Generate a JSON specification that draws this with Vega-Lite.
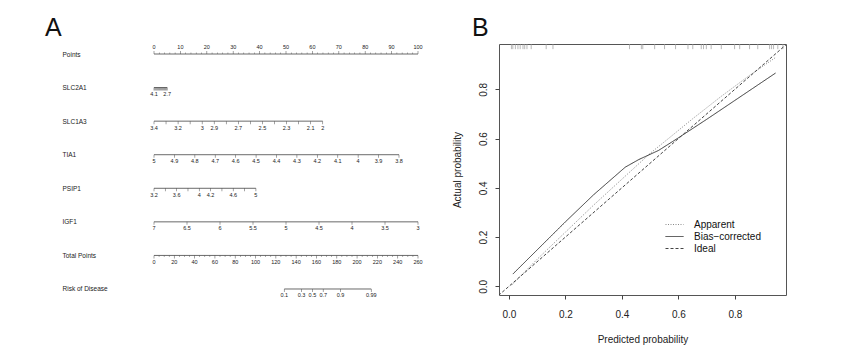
{
 "$schema": "https://vega.github.io/schema/vega-lite/v6.json",
 "background": "white",
 "padding": {"left": 45, "top": 15, "right": 5, "bottom": 5},
 "bounds": "flush",
 "spacing": 81,
 "config": {"font": "Liberation Sans", "view": {"stroke": null}},
 "datasets": {
  "nomo": [
   {"row":"Points","pts":0,"lab":"0","kind":"major"},{"row":"Points","pts":2,"lab":"","kind":"minor"},{"row":"Points","pts":4,"lab":"","kind":"minor"},{"row":"Points","pts":6,"lab":"","kind":"minor"},{"row":"Points","pts":8,"lab":"","kind":"minor"},
   {"row":"Points","pts":10,"lab":"10","kind":"major"},{"row":"Points","pts":12,"lab":"","kind":"minor"},{"row":"Points","pts":14,"lab":"","kind":"minor"},{"row":"Points","pts":16,"lab":"","kind":"minor"},{"row":"Points","pts":18,"lab":"","kind":"minor"},
   {"row":"Points","pts":20,"lab":"20","kind":"major"},{"row":"Points","pts":22,"lab":"","kind":"minor"},{"row":"Points","pts":24,"lab":"","kind":"minor"},{"row":"Points","pts":26,"lab":"","kind":"minor"},{"row":"Points","pts":28,"lab":"","kind":"minor"},
   {"row":"Points","pts":30,"lab":"30","kind":"major"},{"row":"Points","pts":32,"lab":"","kind":"minor"},{"row":"Points","pts":34,"lab":"","kind":"minor"},{"row":"Points","pts":36,"lab":"","kind":"minor"},{"row":"Points","pts":38,"lab":"","kind":"minor"},
   {"row":"Points","pts":40,"lab":"40","kind":"major"},{"row":"Points","pts":42,"lab":"","kind":"minor"},{"row":"Points","pts":44,"lab":"","kind":"minor"},{"row":"Points","pts":46,"lab":"","kind":"minor"},{"row":"Points","pts":48,"lab":"","kind":"minor"},
   {"row":"Points","pts":50,"lab":"50","kind":"major"},{"row":"Points","pts":52,"lab":"","kind":"minor"},{"row":"Points","pts":54,"lab":"","kind":"minor"},{"row":"Points","pts":56,"lab":"","kind":"minor"},{"row":"Points","pts":58,"lab":"","kind":"minor"},
   {"row":"Points","pts":60,"lab":"60","kind":"major"},{"row":"Points","pts":62,"lab":"","kind":"minor"},{"row":"Points","pts":64,"lab":"","kind":"minor"},{"row":"Points","pts":66,"lab":"","kind":"minor"},{"row":"Points","pts":68,"lab":"","kind":"minor"},
   {"row":"Points","pts":70,"lab":"70","kind":"major"},{"row":"Points","pts":72,"lab":"","kind":"minor"},{"row":"Points","pts":74,"lab":"","kind":"minor"},{"row":"Points","pts":76,"lab":"","kind":"minor"},{"row":"Points","pts":78,"lab":"","kind":"minor"},
   {"row":"Points","pts":80,"lab":"80","kind":"major"},{"row":"Points","pts":82,"lab":"","kind":"minor"},{"row":"Points","pts":84,"lab":"","kind":"minor"},{"row":"Points","pts":86,"lab":"","kind":"minor"},{"row":"Points","pts":88,"lab":"","kind":"minor"},
   {"row":"Points","pts":90,"lab":"90","kind":"major"},{"row":"Points","pts":92,"lab":"","kind":"minor"},{"row":"Points","pts":94,"lab":"","kind":"minor"},{"row":"Points","pts":96,"lab":"","kind":"minor"},{"row":"Points","pts":98,"lab":"","kind":"minor"},
   {"row":"Points","pts":100,"lab":"100","kind":"major"},

   {"row":"SLC2A1","pts":0,"lab":"4.1","kind":"major"},{"row":"SLC2A1","pts":0.357,"lab":"","kind":"major"},{"row":"SLC2A1","pts":0.714,"lab":"","kind":"major"},{"row":"SLC2A1","pts":1.071,"lab":"","kind":"major"},{"row":"SLC2A1","pts":1.429,"lab":"","kind":"major"},{"row":"SLC2A1","pts":1.786,"lab":"","kind":"major"},{"row":"SLC2A1","pts":2.143,"lab":"","kind":"major"},{"row":"SLC2A1","pts":2.5,"lab":"","kind":"major"},{"row":"SLC2A1","pts":2.857,"lab":"","kind":"major"},{"row":"SLC2A1","pts":3.214,"lab":"","kind":"major"},{"row":"SLC2A1","pts":3.571,"lab":"","kind":"major"},{"row":"SLC2A1","pts":3.929,"lab":"","kind":"major"},{"row":"SLC2A1","pts":4.286,"lab":"","kind":"major"},{"row":"SLC2A1","pts":4.643,"lab":"","kind":"major"},{"row":"SLC2A1","pts":5.0,"lab":"2.7","kind":"major"},

   {"row":"SLC1A3","pts":0,"lab":"3.4","kind":"major"},{"row":"SLC1A3","pts":4.56,"lab":"","kind":"major"},{"row":"SLC1A3","pts":9.13,"lab":"3.2","kind":"major"},{"row":"SLC1A3","pts":13.69,"lab":"","kind":"major"},{"row":"SLC1A3","pts":18.26,"lab":"3","kind":"major"},{"row":"SLC1A3","pts":22.82,"lab":"2.9","kind":"major"},{"row":"SLC1A3","pts":27.39,"lab":"","kind":"major"},{"row":"SLC1A3","pts":31.95,"lab":"2.7","kind":"major"},{"row":"SLC1A3","pts":36.51,"lab":"","kind":"major"},{"row":"SLC1A3","pts":41.08,"lab":"2.5","kind":"major"},{"row":"SLC1A3","pts":45.64,"lab":"","kind":"major"},{"row":"SLC1A3","pts":50.21,"lab":"2.3","kind":"major"},{"row":"SLC1A3","pts":54.77,"lab":"","kind":"major"},{"row":"SLC1A3","pts":59.34,"lab":"2.1","kind":"major"},{"row":"SLC1A3","pts":63.9,"lab":"2","kind":"major"},

   {"row":"TIA1","pts":0,"lab":"5","kind":"major"},{"row":"TIA1","pts":7.73,"lab":"4.9","kind":"major"},{"row":"TIA1","pts":15.47,"lab":"4.8","kind":"major"},{"row":"TIA1","pts":23.2,"lab":"4.7","kind":"major"},{"row":"TIA1","pts":30.93,"lab":"4.6","kind":"major"},{"row":"TIA1","pts":38.67,"lab":"4.5","kind":"major"},{"row":"TIA1","pts":46.4,"lab":"4.4","kind":"major"},{"row":"TIA1","pts":54.13,"lab":"4.3","kind":"major"},{"row":"TIA1","pts":61.87,"lab":"4.2","kind":"major"},{"row":"TIA1","pts":69.6,"lab":"4.1","kind":"major"},{"row":"TIA1","pts":77.33,"lab":"4","kind":"major"},{"row":"TIA1","pts":85.07,"lab":"3.9","kind":"major"},{"row":"TIA1","pts":92.8,"lab":"3.8","kind":"major"},

   {"row":"PSIP1","pts":0,"lab":"3.2","kind":"major"},{"row":"PSIP1","pts":4.29,"lab":"","kind":"major"},{"row":"PSIP1","pts":8.58,"lab":"3.6","kind":"major"},{"row":"PSIP1","pts":12.87,"lab":"","kind":"major"},{"row":"PSIP1","pts":17.16,"lab":"4","kind":"major"},{"row":"PSIP1","pts":21.44,"lab":"4.2","kind":"major"},{"row":"PSIP1","pts":25.73,"lab":"","kind":"major"},{"row":"PSIP1","pts":30.02,"lab":"4.6","kind":"major"},{"row":"PSIP1","pts":34.31,"lab":"","kind":"major"},{"row":"PSIP1","pts":38.6,"lab":"5","kind":"major"},

   {"row":"IGF1","pts":0,"lab":"7","kind":"major"},{"row":"IGF1","pts":12.5,"lab":"6.5","kind":"major"},{"row":"IGF1","pts":25,"lab":"6","kind":"major"},{"row":"IGF1","pts":37.5,"lab":"5.5","kind":"major"},{"row":"IGF1","pts":50,"lab":"5","kind":"major"},{"row":"IGF1","pts":62.5,"lab":"4.5","kind":"major"},{"row":"IGF1","pts":75,"lab":"4","kind":"major"},{"row":"IGF1","pts":87.5,"lab":"3.5","kind":"major"},{"row":"IGF1","pts":100,"lab":"3","kind":"major"},

   {"row":"Total Points","pts":0,"lab":"0","kind":"major"},{"row":"Total Points","pts":1.923,"lab":"","kind":"minor"},{"row":"Total Points","pts":3.846,"lab":"","kind":"minor"},{"row":"Total Points","pts":5.769,"lab":"","kind":"minor"},
   {"row":"Total Points","pts":7.692,"lab":"20","kind":"major"},{"row":"Total Points","pts":9.615,"lab":"","kind":"minor"},{"row":"Total Points","pts":11.538,"lab":"","kind":"minor"},{"row":"Total Points","pts":13.462,"lab":"","kind":"minor"},
   {"row":"Total Points","pts":15.385,"lab":"40","kind":"major"},{"row":"Total Points","pts":17.308,"lab":"","kind":"minor"},{"row":"Total Points","pts":19.231,"lab":"","kind":"minor"},{"row":"Total Points","pts":21.154,"lab":"","kind":"minor"},
   {"row":"Total Points","pts":23.077,"lab":"60","kind":"major"},{"row":"Total Points","pts":25,"lab":"","kind":"minor"},{"row":"Total Points","pts":26.923,"lab":"","kind":"minor"},{"row":"Total Points","pts":28.846,"lab":"","kind":"minor"},
   {"row":"Total Points","pts":30.769,"lab":"80","kind":"major"},{"row":"Total Points","pts":32.692,"lab":"","kind":"minor"},{"row":"Total Points","pts":34.615,"lab":"","kind":"minor"},{"row":"Total Points","pts":36.538,"lab":"","kind":"minor"},
   {"row":"Total Points","pts":38.462,"lab":"100","kind":"major"},{"row":"Total Points","pts":40.385,"lab":"","kind":"minor"},{"row":"Total Points","pts":42.308,"lab":"","kind":"minor"},{"row":"Total Points","pts":44.231,"lab":"","kind":"minor"},
   {"row":"Total Points","pts":46.154,"lab":"120","kind":"major"},{"row":"Total Points","pts":48.077,"lab":"","kind":"minor"},{"row":"Total Points","pts":50,"lab":"","kind":"minor"},{"row":"Total Points","pts":51.923,"lab":"","kind":"minor"},
   {"row":"Total Points","pts":53.846,"lab":"140","kind":"major"},{"row":"Total Points","pts":55.769,"lab":"","kind":"minor"},{"row":"Total Points","pts":57.692,"lab":"","kind":"minor"},{"row":"Total Points","pts":59.615,"lab":"","kind":"minor"},
   {"row":"Total Points","pts":61.538,"lab":"160","kind":"major"},{"row":"Total Points","pts":63.462,"lab":"","kind":"minor"},{"row":"Total Points","pts":65.385,"lab":"","kind":"minor"},{"row":"Total Points","pts":67.308,"lab":"","kind":"minor"},
   {"row":"Total Points","pts":69.231,"lab":"180","kind":"major"},{"row":"Total Points","pts":71.154,"lab":"","kind":"minor"},{"row":"Total Points","pts":73.077,"lab":"","kind":"minor"},{"row":"Total Points","pts":75,"lab":"","kind":"minor"},
   {"row":"Total Points","pts":76.923,"lab":"200","kind":"major"},{"row":"Total Points","pts":78.846,"lab":"","kind":"minor"},{"row":"Total Points","pts":80.769,"lab":"","kind":"minor"},{"row":"Total Points","pts":82.692,"lab":"","kind":"minor"},
   {"row":"Total Points","pts":84.615,"lab":"220","kind":"major"},{"row":"Total Points","pts":86.538,"lab":"","kind":"minor"},{"row":"Total Points","pts":88.462,"lab":"","kind":"minor"},{"row":"Total Points","pts":90.385,"lab":"","kind":"minor"},
   {"row":"Total Points","pts":92.308,"lab":"240","kind":"major"},{"row":"Total Points","pts":94.231,"lab":"","kind":"minor"},{"row":"Total Points","pts":96.154,"lab":"","kind":"minor"},{"row":"Total Points","pts":98.077,"lab":"","kind":"minor"},
   {"row":"Total Points","pts":100,"lab":"260","kind":"major"},

   {"row":"Risk of Disease","pts":49.35,"lab":"0.1","kind":"major"},{"row":"Risk of Disease","pts":55.9,"lab":"0.3","kind":"major"},{"row":"Risk of Disease","pts":60.0,"lab":"0.5","kind":"major"},{"row":"Risk of Disease","pts":64.1,"lab":"0.7","kind":"major"},{"row":"Risk of Disease","pts":70.65,"lab":"0.9","kind":"major"},{"row":"Risk of Disease","pts":82.3,"lab":"0.99","kind":"major"}
  ],
  "cal": [
   {"series":"Apparent","x":0.01,"y":0.005},{"series":"Apparent","x":0.1,"y":0.11},{"series":"Apparent","x":0.2,"y":0.22},{"series":"Apparent","x":0.3,"y":0.33},{"series":"Apparent","x":0.4,"y":0.435},{"series":"Apparent","x":0.5,"y":0.54},{"series":"Apparent","x":0.57,"y":0.605},{"series":"Apparent","x":0.65,"y":0.68},{"series":"Apparent","x":0.75,"y":0.77},{"series":"Apparent","x":0.85,"y":0.855},{"series":"Apparent","x":0.945,"y":0.93},
   {"series":"Bias−corrected","x":0.014,"y":0.05},{"series":"Bias−corrected","x":0.1,"y":0.148},{"series":"Bias−corrected","x":0.2,"y":0.262},{"series":"Bias−corrected","x":0.3,"y":0.372},{"series":"Bias−corrected","x":0.412,"y":0.484},{"series":"Bias−corrected","x":0.46,"y":0.515},{"series":"Bias−corrected","x":0.53,"y":0.552},{"series":"Bias−corrected","x":0.6,"y":0.603},{"series":"Bias−corrected","x":0.7,"y":0.678},{"series":"Bias−corrected","x":0.8,"y":0.755},{"series":"Bias−corrected","x":0.944,"y":0.866},
   {"series":"Ideal","x":-0.05,"y":-0.05},{"series":"Ideal","x":1.05,"y":1.05}
  ],
  "rug": [
   {"x":0.009},{"x":0.014},{"x":0.023},{"x":0.032},{"x":0.040},{"x":0.050},{"x":0.056},{"x":0.064},{"x":0.079},{"x":0.132},{"x":0.156},{"x":0.427},{"x":0.469},{"x":0.474},{"x":0.516},{"x":0.551},{"x":0.590},{"x":0.634},{"x":0.651},{"x":0.681},{"x":0.689},{"x":0.699},{"x":0.716},{"x":0.752},{"x":0.799},{"x":0.817},{"x":0.852},{"x":0.881},{"x":0.923},{"x":0.930},{"x":0.937},{"x":0.952},{"x":0.970}
  ]
 },
 "hconcat": [
  {
   "width": 264,
   "height": 255,
   "title": {"text": "A", "anchor": "start", "frame": "group", "dx": -109, "fontSize": 25, "fontWeight": "normal", "offset": -17, "baseline": "alphabetic", "color": "#111"},
   "data": {"name": "nomo"},
   "encoding": {
    "y": {"field": "row", "type": "ordinal",
      "scale": {"type": "point", "padding": 0.298, "domain": ["Points","SLC2A1","SLC1A3","TIA1","PSIP1","IGF1","Total Points","Risk of Disease"]},
      "axis": {"title": null, "domain": false, "ticks": false, "tickSize": 0, "grid": false, "labelAlign": "left", "labelBaseline": "middle", "labelPadding": 92, "labelFontSize": 6.5, "labelColor": "#222"}}
   },
   "layer": [
    {"mark": {"type": "rule", "stroke": "#444", "strokeWidth": 0.8},
     "encoding": {"x": {"aggregate": "min", "field": "pts", "type": "quantitative", "scale": {"domain": [0, 100], "nice": false}, "axis": null},
                  "x2": {"aggregate": "max", "field": "pts"}}},
    {"transform": [{"filter": "datum.row !== 'Points' && datum.kind === 'major'"}],
     "mark": {"type": "tick", "color": "#444", "thickness": 0.7, "size": 3, "yOffset": 1.5},
     "encoding": {"x": {"field": "pts", "type": "quantitative"}}},
    {"transform": [{"filter": "datum.row === 'Points' && datum.kind === 'major'"}],
     "mark": {"type": "tick", "color": "#444", "thickness": 0.7, "size": 3, "yOffset": -1.5},
     "encoding": {"x": {"field": "pts", "type": "quantitative"}}},
    {"transform": [{"filter": "datum.row === 'Points' && datum.kind === 'minor'"}],
     "mark": {"type": "tick", "color": "#444", "thickness": 0.6, "size": 1.6, "yOffset": -0.8},
     "encoding": {"x": {"field": "pts", "type": "quantitative"}}},
    {"transform": [{"filter": "datum.row !== 'Points' && datum.kind === 'minor'"}],
     "mark": {"type": "tick", "color": "#444", "thickness": 0.6, "size": 1.6, "yOffset": 0.8},
     "encoding": {"x": {"field": "pts", "type": "quantitative"}}},
    {"transform": [{"filter": "datum.row !== 'Points' && datum.lab !== ''"}],
     "mark": {"type": "text", "fontSize": 5.5, "dy": 6.5, "baseline": "middle", "color": "#222"},
     "encoding": {"x": {"field": "pts", "type": "quantitative"}, "text": {"field": "lab"}}},
    {"transform": [{"filter": "datum.row === 'Points' && datum.lab !== ''"}],
     "mark": {"type": "text", "fontSize": 5.5, "dy": -7, "baseline": "middle", "color": "#222"},
     "encoding": {"x": {"field": "pts", "type": "quantitative"}, "text": {"field": "lab"}}}
   ]
  },
  {
   "width": 287,
   "height": 251,
   "view": {"stroke": "#555", "strokeWidth": 1},
   "title": {"text": "B", "anchor": "start", "frame": "group", "dx": -27, "fontSize": 25, "fontWeight": "normal", "offset": -17, "baseline": "alphabetic", "color": "#111"},
   "layer": [
    {"data": {"name": "rug"},
     "mark": {"type": "rule", "stroke": "#999", "strokeWidth": 0.7},
     "encoding": {
      "x": {"field": "x", "type": "quantitative",
        "scale": {"domain": [-0.035, 0.981], "nice": false, "zero": false},
        "axis": {"title": "Predicted probability", "values": [0, 0.2, 0.4, 0.6, 0.8], "format": ".1f", "grid": false, "domain": false, "tickSize": 4, "tickColor": "#444", "labelFontSize": 10, "labelColor": "#222", "labelPadding": 10, "titleFontSize": 10, "titleFontWeight": "normal", "titleColor": "#222", "titlePadding": 15}},
      "y": {"datum": 0.984, "type": "quantitative",
        "scale": {"domain": [-0.035, 0.984], "nice": false, "zero": false},
        "axis": {"title": "Actual probability", "values": [0, 0.2, 0.4, 0.6, 0.8], "format": ".1f", "grid": false, "domain": false, "tickSize": 4, "tickColor": "#444", "labelFontSize": 10, "labelColor": "#222", "labelAngle": -90, "labelAlign": "center", "labelBaseline": "bottom", "labelPadding": 7, "titleFontSize": 10, "titleFontWeight": "normal", "titleColor": "#222", "titlePadding": 16}},
      "y2": {"datum": 0.963}
     }},
    {"data": {"name": "cal"},
     "mark": {"type": "line", "strokeWidth": 1, "clip": true},
     "encoding": {
      "x": {"field": "x", "type": "quantitative"},
      "y": {"field": "y", "type": "quantitative"},
      "color": {"field": "series", "type": "nominal",
        "scale": {"domain": ["Apparent", "Bias−corrected", "Ideal"], "range": ["#888888", "#333333", "#444444"]},
        "legend": {"orient": "none", "legendX": 514, "legendY": 174, "title": null, "symbolType": "M-1.5,0H1.5", "symbolSize": 144, "symbolStrokeWidth": 1, "labelFontSize": 10, "labelColor": "#111", "labelOffset": 13, "rowPadding": 0, "padding": 0}},
      "strokeDash": {"field": "series", "type": "nominal",
        "scale": {"domain": ["Apparent", "Bias−corrected", "Ideal"], "range": [[1, 1.5], [1, 0], [3, 2]]},
        "legend": {"orient": "none", "legendX": 514, "legendY": 174, "title": null, "symbolType": "M-1.5,0H1.5", "symbolSize": 144, "symbolStrokeWidth": 1, "labelFontSize": 10, "labelColor": "#111", "labelOffset": 13, "rowPadding": 0, "padding": 0}}
     }}
   ]
  }
 ]
}
